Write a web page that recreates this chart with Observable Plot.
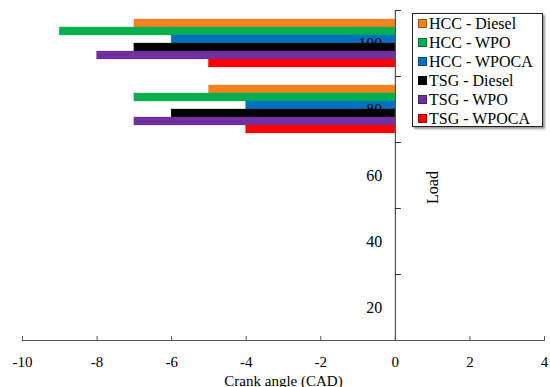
<!DOCTYPE html>
<html>
<head>
<meta charset="utf-8">
<script src="https://cdn.jsdelivr.net/npm/d3@7"></script>
<script src="https://cdn.jsdelivr.net/npm/@observablehq/plot@0.6"></script>
<style>
  html, body { margin: 0; padding: 0; background: #fff; }
  #wrap { position: relative; width: 550px; height: 387px; overflow: hidden; }
  #legend {
    position: absolute; left: 412px; top: 13px; width: 131px; height: 114px;
    border: 1px solid #222; background: #fff; box-shadow: 2px 2px 2px #999;
    font-family: "Liberation Serif", "Times New Roman", serif; font-size: 16px; color: #000;
    padding: 0; box-sizing: border-box;
  }
  .row { display: flex; align-items: center; height: 19px; padding-left: 5px; white-space: nowrap; line-height: 19px; }
  .sw { width: 7px; height: 7px; margin-right: 2px; border: 1px solid rgba(0,0,0,0.35); flex: none; }
</style>
</head>
<body>
<div id="wrap"></div>
<script>
const loads = [100, 80, 60, 40, 20];
const series = ["HCC - Diesel", "HCC - WPO", "HCC - WPOCA", "TSG - Diesel", "TSG - WPO", "TSG - WPOCA"];
const colors = ["#F58220", "#00B050", "#0070C0", "#000000", "#7030A0", "#FF0000"];
const load100 = [-7, -9, -6, -7, -8, -5];
const load80 = [-5, -7, -4, -6, -7, -4];
const xTicks = [-10, -8, -6, -4, -2, 0, 2, 4];

const rows = [];
series.forEach((s, i) => rows.push({load: 100, series: s, value: load100[i]}));
series.forEach((s, i) => rows.push({load: 80, series: s, value: load80[i]}));
const hccRows = rows.filter(d => d.series.startsWith("HCC"));
const tsgRows = rows.filter(d => d.series.startsWith("TSG"));

const W = 550, H = 387, mL = 22, mR = 6, mT = 10, mB = 47;
const serif = "'Liberation Serif', 'Times New Roman', serif";
const xs = d3.scaleLinear([-10, 4], [mL, W - mR]);
const x0 = xs(0);

const barOpts = {fy: "load", y: "series", x: "value", fill: "series", stroke: "series", strokeOpacity: 0.6, strokeWidth: 0.5};

const chart = Plot.plot({
  width: W, height: H,
  marginTop: mT, marginBottom: mB, marginLeft: mL, marginRight: mR,
  style: {fontFamily: serif, fontSize: "15px", color: "#000", background: "white"},
  x: {domain: [-10, 4]},
  y: {domain: series, axis: null, paddingInner: 0, paddingOuter: 0.7},
  fy: {domain: loads, axis: null, padding: 0},
  color: {domain: series, range: colors},
  marks: [
    Plot.barX(hccRows, barOpts),
    Plot.text(loads, {fy: d => d, x: () => 0, text: d => String(d), textAnchor: "end", dx: -13, fontSize: 16, fontFamily: serif}),
    Plot.barX(tsgRows, barOpts),
    Plot.ruleX([0], {stroke: "#333"}),
    Plot.frame({anchor: "top", insetLeft: x0 - mL, insetRight: W - mR - x0 - 5, stroke: "#333"}),
    Plot.frame({anchor: "bottom", facetAnchor: "bottom", stroke: "#555"}),
    Plot.axisX({ticks: xTicks, tickFormat: d => String(d), tickSize: -4, tickPadding: 20, stroke: "#555",
      label: "Crank angle (CAD)", labelArrow: false, labelAnchor: "center", labelOffset: 45, fontSize: 15, fontFamily: serif}),
    Plot.text(["Load"], {fy: () => 60, x: () => 1, text: d => d, rotate: -90, dy: 12, fontSize: 16, fontFamily: serif})
  ]
});

const wrap = document.getElementById("wrap");
wrap.appendChild(chart);

const legend = document.createElement("div");
legend.id = "legend";
series.forEach((s, i) => {
  const r = document.createElement("div");
  r.className = "row";
  const sw = document.createElement("span");
  sw.className = "sw";
  sw.style.background = colors[i];
  const t = document.createElement("span");
  t.textContent = s;
  r.appendChild(sw); r.appendChild(t);
  legend.appendChild(r);
});
wrap.appendChild(legend);
</script>
</body>
</html>
